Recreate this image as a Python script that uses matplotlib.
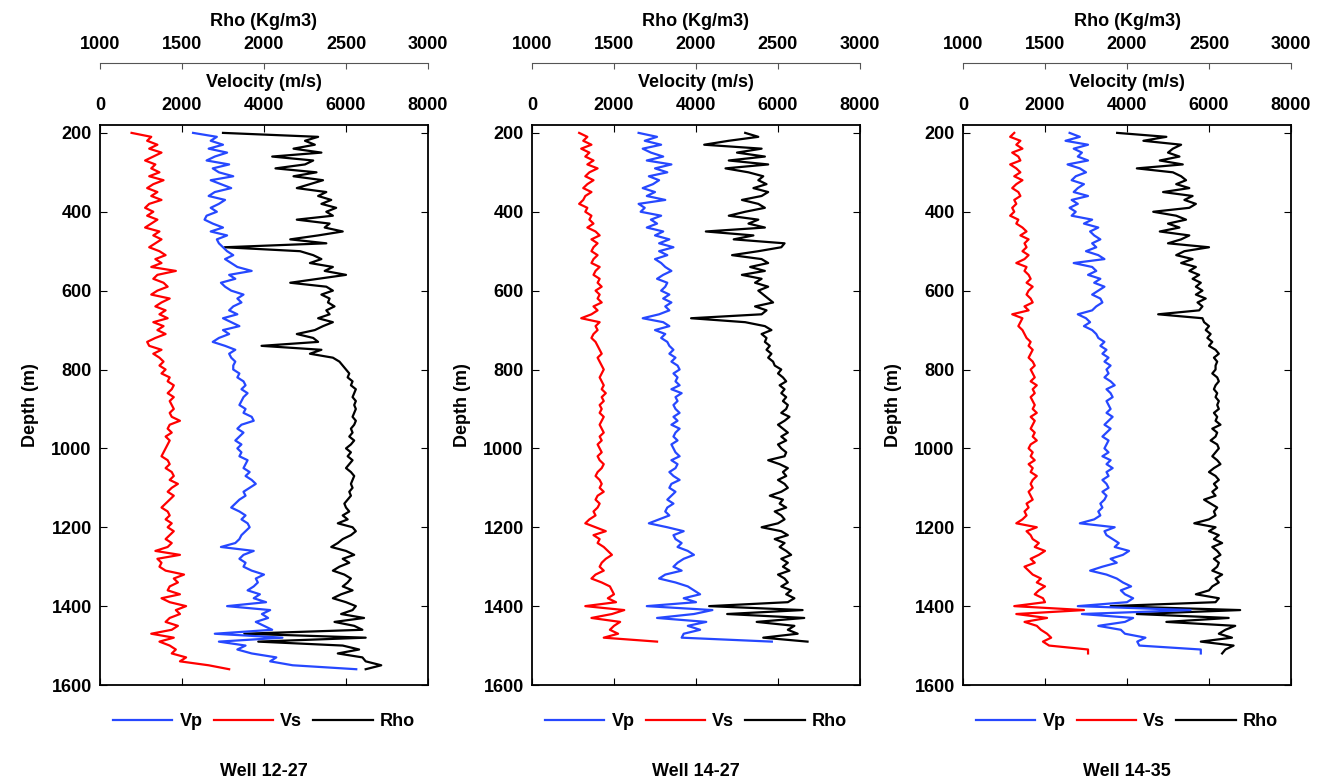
import numpy as np
import matplotlib
matplotlib.use('Agg')
import matplotlib.pyplot as plt

plt.rcParams['font.family'] = ['Liberation Sans', 'DejaVu Sans']
plt.rcParams['font.weight'] = 'bold'
plt.rcParams['axes.labelweight'] = 'bold'
plt.rcParams['font.size'] = 13

# ---- well 12-27 (depth step 10 m, 200..1560) ----
depth_1227 = np.arange(200, 1561, 10)
vs_1227 = [770, 1250, 1150, 1400, 1200, 1500, 1300, 1100, 1350, 1250,
           1450, 1200, 1550, 1300, 1150, 1400, 1250, 1500, 1200, 1100,
           1300, 1150, 1400, 1250, 1100, 1450, 1300, 1500, 1350, 1200,
           1450, 1600, 1350, 1500, 1250, 1850, 1400, 1300, 1550, 1650,
           1400, 1250, 1700, 1500, 1350, 1600, 1450, 1650, 1300, 1550,
           1400, 1600, 1350, 1150, 1200, 1500, 1300, 1450, 1550, 1450,
           1600, 1500, 1700, 1650, 1800, 1750, 1650, 1800, 1700, 1750,
           1800, 1700, 1750, 1950, 1700, 1650, 1750, 1600, 1700, 1650,
           1600, 1550, 1500, 1650, 1700, 1600, 1750, 1800, 1700, 1900,
           1750, 1650, 1800, 1700, 1600, 1500, 1650, 1700, 1600, 1750,
           1650, 1800, 1700, 1600, 1750, 1650, 1350, 1950, 1400, 1500,
           1450, 1600, 2050, 1800, 1900, 1700, 1650, 1950, 1500, 1700,
           2100, 1850, 1950, 1700, 1600, 1900, 1750, 1250, 1800, 1450,
           1700, 1850, 1750, 2100, 1950, 2650, 3150]
vp_1227 = [2270, 2850, 2700, 3000, 2650, 3100, 2800, 2600, 3150, 2750,
           2900, 3250, 2700, 2950, 3200, 2800, 2650, 3050, 2900, 2700,
           2850, 2600, 2550, 2750, 3000, 2700, 3100, 2850, 2900, 3000,
           3100, 3250, 3050, 3200, 3350, 3700, 3150, 3300, 2950, 3050,
           3200, 3500, 3350, 3450, 3250, 3150, 3350, 3000, 3200, 3400,
           3000, 3150, 2900, 2750, 3050, 3300, 3150, 3200, 3300, 3250,
           3250, 3400, 3350, 3500, 3550, 3450, 3600, 3500, 3450, 3400,
           3550, 3500, 3700, 3750, 3450, 3350, 3500, 3400, 3300, 3450,
           3350, 3450, 3400, 3600, 3550, 3500, 3650, 3550, 3700, 3800,
           3650, 3500, 3550, 3400, 3300, 3200, 3400, 3550, 3450, 3600,
           3650, 3550, 3450, 3400, 3300, 2950, 3750, 3500, 3400, 3550,
           3500, 3700, 4000, 3800, 3850, 3750, 3600, 3900, 3750, 4050,
           3100, 4150, 3950, 4100, 3800, 4000, 4200, 2800, 4450, 2900,
           3550, 3350, 3700, 4300, 4150, 4700, 6250]
rho_1227 = [1750, 2330, 2250, 2310, 2180, 2350, 2050, 2300, 2250, 2070,
            2320, 2180, 2360, 2280, 2200, 2380, 2330, 2410, 2350, 2440,
            2380, 2420, 2200, 2400, 2370, 2480, 2330, 2160, 2380, 1760,
            2220, 2300, 2350, 2280, 2420, 2370, 2500, 2330, 2160, 2380,
            2420, 2350, 2400, 2390, 2430, 2380, 2400, 2330, 2420, 2360,
            2310, 2200, 2300, 2330, 1985, 2350, 2280, 2420, 2460, 2480,
            2500, 2520, 2510, 2540, 2530, 2560, 2550, 2540, 2560, 2550,
            2560, 2550, 2540, 2560, 2550, 2530, 2540, 2520, 2550, 2530,
            2500, 2530, 2510, 2540, 2520, 2500, 2530, 2550, 2540, 2530,
            2540, 2520, 2530, 2510, 2490, 2500, 2520, 2480, 2510, 2450,
            2540, 2560, 2530, 2480, 2450, 2410, 2500, 2550, 2480, 2520,
            2460, 2420, 2490, 2530, 2510, 2480, 2540, 2470, 2420, 2500,
            2560, 2540, 2470, 2610, 2430, 2550, 2600, 1880, 2620, 1965,
            2480, 2580, 2450, 2600, 2620, 2715, 2620]

# ---- well 14-27 (200..1490) ----
depth_1427 = np.arange(200, 1491, 10)
vs_1427 = [1150, 1350, 1250, 1450, 1200, 1400, 1300, 1500, 1350, 1600,
           1400, 1300, 1500, 1350, 1250, 1450, 1300, 1250, 1150, 1350,
           1300, 1450, 1400, 1500, 1350, 1550, 1650, 1450, 1600, 1500,
           1450, 1600, 1500, 1450, 1650, 1550, 1500, 1650, 1600, 1700,
           1550, 1650, 1600, 1700, 1500, 1600, 1450, 1200, 1650, 1550,
           1600, 1500, 1450, 1550, 1600, 1650, 1700, 1600, 1650, 1700,
           1750, 1700, 1650, 1700, 1750, 1700, 1800, 1700, 1750, 1650,
           1700, 1650, 1750, 1700, 1650, 1700, 1750, 1650, 1700, 1600,
           1650, 1700, 1600, 1650, 1750, 1700, 1600, 1550, 1650, 1700,
           1650, 1750, 1600, 1550, 1650, 1600, 1500, 1550, 1400, 1300,
           1550, 1800, 1500, 1650, 1600, 1750, 1850, 1950, 1800, 1700,
           1650, 1750, 1550, 1450, 1700, 1900, 1950, 2000, 1850, 2050,
           1300, 2250, 1950, 1450, 2150, 2000, 1900, 2100, 1750, 3050]
vp_1427 = [2600, 3050, 2750, 3150, 2700, 2900, 3200, 2800, 3400, 3000,
           3300, 2850, 3100, 2950, 2700, 3000, 2800, 3250, 2600, 2750,
           2650, 3150, 2900, 3050, 2800, 3200, 3000, 3350, 3100, 3450,
           3100, 3300, 3000, 3150, 3250, 3400, 3200, 3050, 3300, 3250,
           3150, 3350, 3200, 3400, 3250, 3350, 3100, 2700, 3200, 3350,
           3000, 3250, 3150, 3300, 3350, 3450, 3350, 3500, 3400, 3550,
           3600, 3450, 3550, 3500, 3600, 3400, 3650, 3500, 3550, 3450,
           3500, 3600, 3450, 3550, 3400, 3600, 3500, 3450, 3550, 3400,
           3450, 3500, 3600, 3400, 3550, 3500, 3350, 3450, 3600, 3400,
           3350, 3500, 3400, 3300, 3450, 3300, 3250, 3350, 3100, 2850,
           3300, 3700, 3450, 3500, 3650, 3550, 3800, 3950, 3700, 3550,
           3450, 3650, 3250, 3100, 3500, 3800, 3950, 4100, 3700, 4000,
           2800, 4400, 3950, 3050, 4250, 3800, 4100, 3700, 3650, 5850]
rho_1427 = [2300, 2380, 2200, 2050, 2400, 2250, 2420, 2200, 2440, 2180,
            2320, 2410, 2380, 2430, 2350, 2440, 2400, 2280, 2380, 2420,
            2300, 2200, 2380, 2320, 2420, 2060, 2350, 2230, 2540, 2520,
            2380, 2220, 2400, 2440, 2330, 2420, 2280, 2400, 2360, 2440,
            2380, 2410, 2440, 2470, 2360, 2430, 2400, 1970, 2300, 2420,
            2460, 2400, 2430, 2420, 2450, 2430, 2460, 2440, 2470, 2480,
            2520, 2500, 2530, 2550, 2510, 2540, 2520, 2550, 2530, 2560,
            2550, 2520, 2570, 2540, 2500, 2530, 2560, 2520, 2550, 2500,
            2520, 2550, 2540, 2440, 2510, 2560, 2530, 2550, 2500, 2540,
            2560, 2520, 2450, 2530, 2510, 2550, 2480, 2520, 2540, 2500,
            2400, 2520, 2560, 2480, 2540, 2510, 2550, 2580, 2520, 2560,
            2530, 2570, 2500, 2540, 2560, 2520, 2580, 2550, 2600, 2560,
            2080, 2650, 2190, 2660, 2370, 2600, 2560, 2620, 2410, 2680]

# ---- well 14-35 (200..1520) ----
depth_1435 = np.arange(200, 1521, 10)
vs_1435 = [1250, 1150, 1400, 1300, 1450, 1200, 1350, 1400, 1150, 1300,
           1400, 1250, 1450, 1300, 1200, 1350, 1400, 1250, 1300, 1200,
           1250, 1150, 1350, 1300, 1450, 1550, 1400, 1600, 1500, 1550,
           1450, 1600, 1500, 1300, 1550, 1500, 1600, 1650, 1550, 1700,
           1600, 1550, 1650, 1700, 1500, 1600, 1200, 1450, 1400, 1350,
           1450, 1500, 1550, 1650, 1600, 1700, 1650, 1600, 1700, 1750,
           1650, 1700, 1750, 1650, 1800, 1700, 1750, 1650, 1700, 1750,
           1700, 1800, 1650, 1750, 1700, 1650, 1750, 1700, 1800, 1650,
           1600, 1700, 1650, 1750, 1600, 1700, 1650, 1800, 1700, 1650,
           1700, 1600, 1650, 1700, 1550, 1600, 1500, 1550, 1450, 1300,
           1800, 1550, 1650, 1700, 1850, 1750, 2000, 1850, 1650, 1750,
           1500, 1600, 1700, 1900, 1800, 2000, 1850, 1750, 1950, 2000,
           1250, 2950, 1300, 2050, 1500, 1800, 1900, 2050, 2150, 1950,
           2100, 3050, 3050]
vp_1435 = [2600, 2850, 2500, 3050, 2700, 2900, 2800, 3050, 2550, 2850,
           3000, 2750, 2650, 2950, 2800, 2700, 3050, 2650, 2800, 2600,
           2750, 2650, 3150, 2950, 3300, 3100, 3200, 3350, 3150, 3250,
           3000, 3300, 3450, 2700, 3150, 3250, 3050, 3350, 3200, 3450,
           3300, 3150, 3350, 3400, 3250, 3150, 2800, 3000, 3100, 2950,
           3150, 3250, 3300, 3450, 3350, 3500, 3400, 3550, 3450, 3600,
           3500, 3550, 3450, 3600, 3700, 3500, 3600, 3650, 3500, 3550,
           3600, 3500, 3650, 3550, 3450, 3600, 3500, 3400, 3550, 3500,
           3450, 3550, 3400, 3600, 3500, 3650, 3500, 3550, 3400, 3500,
           3550, 3400, 3500, 3450, 3350, 3400, 3300, 3350, 3200, 2850,
           3700, 3450, 3500, 3650, 3800, 3700, 4050, 3900, 3600, 3750,
           3400, 3100, 3500, 3750, 3900, 4100, 3850, 3950, 4150, 4000,
           2800, 5550, 2900, 4150, 3950, 3300, 3850, 3950, 4450, 4250,
           4300, 5800, 5800]
rho_1435 = [1940, 2240, 2100, 2330, 2280, 2250, 2320, 2200, 2340, 2060,
            2280, 2330, 2360, 2300, 2380, 2220, 2400, 2350, 2420, 2380,
            2160, 2300, 2360, 2250, 2320, 2200, 2380, 2330, 2250, 2500,
            2350, 2300, 2400, 2330, 2420, 2380, 2440, 2400, 2450, 2420,
            2460, 2420, 2480, 2430, 2460, 2440, 2190, 2460, 2470, 2500,
            2480, 2510, 2490, 2520, 2500, 2540, 2560, 2530, 2550, 2540,
            2540, 2520, 2550, 2560, 2540, 2530, 2550, 2540, 2560, 2550,
            2560, 2530, 2550, 2540, 2570, 2520, 2550, 2540, 2510, 2550,
            2560, 2540, 2520, 2550, 2570, 2530, 2500, 2540, 2560, 2530,
            2550, 2520, 2540, 2470, 2510, 2550, 2530, 2540, 2500, 2410,
            2540, 2500, 2560, 2530, 2580, 2520, 2550, 2570, 2530, 2560,
            2550, 2520, 2580, 2540, 2560, 2520, 2500, 2420, 2560, 2540,
            1900, 2690, 2060, 2620, 2240, 2660, 2600, 2560, 2640, 2450,
            2650, 2600, 2580]

wells = ['Well 12-27', 'Well 14-27', 'Well 14-35']
depths = [depth_1227, depth_1427, depth_1435]
vps = [vp_1227, vp_1427, vp_1435]
vss = [vs_1227, vs_1427, vs_1435]
rhos = [rho_1227, rho_1427, rho_1435]

W, H = 1337, 783
fig = plt.figure(figsize=(W / 100, H / 100), dpi=100)
lefts = [100, 532, 963]
blue = '#2648ff'

for i in range(3):
    ax = fig.add_axes([lefts[i] / W, 1 - 685 / H, 328 / W, 560 / H])
    ax2 = ax.twiny()
    ## velocity curves drawn above the rho curve
    ax.set_zorder(ax2.get_zorder() + 1)
    ax.patch.set_visible(False)

    l3, = ax2.plot(rhos[i], depths[i], color='black', lw=1.6)
    l1, = ax.plot(vps[i], depths[i], color=blue, lw=1.6)
    l2, = ax.plot(vss[i], depths[i], color='red', lw=1.6)

    ax.set_xlim(0, 8000)
    ax.set_ylim(1600, 180)
    ax.set_xticks([0, 2000, 4000, 6000, 8000])
    ax.set_yticks(range(200, 1601, 200))
    ax.xaxis.set_label_position('top')
    ax.tick_params(axis='x', top=True, bottom=True, labeltop=True, labelbottom=False,
                   direction='in', length=5, pad=8)
    ax.tick_params(axis='y', left=True, right=True, direction='in', length=5, pad=6)
    ax.set_xlabel('Velocity (m/s)', labelpad=7)
    ax.set_ylabel('Depth (m)', labelpad=9)
    for s in ax.spines.values():
        s.set_linewidth(1.3)

    ax2.set_xlim(1000, 3000)
    ax2.set_xticks([1000, 1500, 2000, 2500, 3000])
    ax2.spines['top'].set_position(('outward', 45))
    ax2.spines['top'].set_color('#555555')
    for s in ['bottom', 'left', 'right']:
        ax2.spines[s].set_visible(False)
    ax2.tick_params(axis='x', direction='in', length=4, color='#555555', pad=7)
    ax2.set_xlabel('Rho (Kg/m3)', labelpad=7)

    ax.legend([l1, l2, l3], ['Vp', 'Vs', 'Rho'], loc='center', bbox_to_anchor=(0.5, -0.066),
              ncol=3, frameon=False, handlelength=3.3, handletextpad=0.4, columnspacing=0.6)
    ax.text(0.5, -0.154, wells[i], transform=ax.transAxes, ha='center', va='center')

fig.savefig('out.png', dpi=100)
